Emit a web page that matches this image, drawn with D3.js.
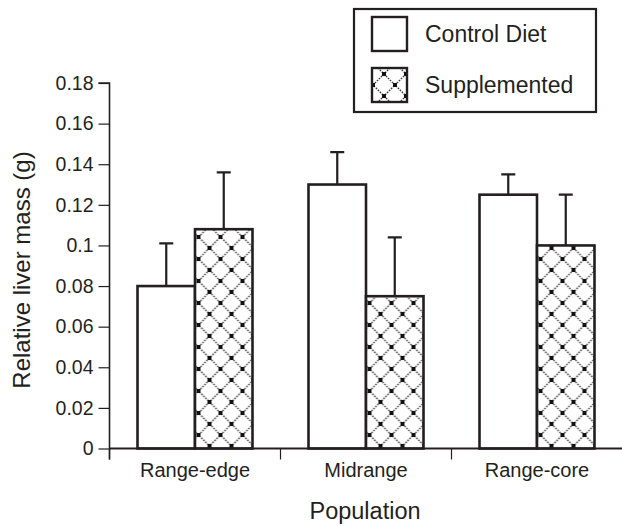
<!DOCTYPE html>
<html>
<head>
<meta charset="utf-8">
<script src="https://cdn.jsdelivr.net/npm/d3@7"></script>
<style>
  body { margin: 0; background: #fff; }
  text { font-family: "Liberation Sans", Arial, sans-serif; fill: #231f20; }
</style>
</head>
<body>
<div id="chart-area"></div>
<script>
// data
const populations = ["Range-edge", "Midrange", "Range-core"];
const diets = ["Control Diet", "Supplemented"];
const controlMass = [0.080, 0.130, 0.125];
const controlErr = [0.021, 0.016, 0.010];
const suppMass = [0.108, 0.075, 0.100];
const suppErr = [0.028, 0.029, 0.025];
const yTicks = [0, 0.02, 0.04, 0.06, 0.08, 0.1, 0.12, 0.14, 0.16, 0.18];

const WIDTH = 622, HEIGHT = 527;
const INK = "#231f20";
const MARGIN = { LEFT: 109.5, RIGHT: 0, TOP: 83, BOTTOM: 78.5 };

const svg = d3.select("#chart-area")
  .append("svg")
    .attr("width", WIDTH)
    .attr("height", HEIGHT);

// lattice fill for the supplemented bars (dotted diagonals, dark knots)
const pat = svg.append("defs").append("pattern")
  .attr("id", "lattice")
  .attr("patternUnits", "userSpaceOnUse")
  .attr("width", 22).attr("height", 22)
  .attr("x", 188).attr("y", 226);
pat.append("rect").attr("width", 22).attr("height", 22).attr("fill", "#fff");
pat.append("path")
  .attr("d", "M0,0 L22,22 M22,0 L0,22")
  .attr("fill", "none").attr("stroke", "#3a3a3a").attr("stroke-width", 1.4)
  .attr("stroke-dasharray", "1.6,1.2");
[[0,0],[22,0],[0,22],[22,22],[11,11]].forEach(([cx, cy]) => {
  pat.append("rect").attr("x", cx - 2).attr("y", cy - 2)
    .attr("width", 4).attr("height", 4).attr("fill", "#111");
});

const rows = populations.map((p, i) => ({
  pop: p,
  vals: [
    { diet: diets[0], v: controlMass[i], e: controlErr[i] },
    { diet: diets[1], v: suppMass[i], e: suppErr[i] }
  ]
}));

const x = d3.scaleBand()
  .domain(populations)
  .range([MARGIN.LEFT, WIDTH - MARGIN.RIGHT + 0.5]);

const x1 = d3.scaleBand()
  .domain(diets)
  .range([28, x.bandwidth() - 28]);

const y = d3.scaleLinear()
  .domain([0, 0.18])
  .range([HEIGHT - MARGIN.BOTTOM, MARGIN.TOP]);

const fillFor = d => d.diet === diets[0] ? "#fff" : "url(#lattice)";

// error bars first so bar outlines sit on top
const groups = svg.selectAll(".pop")
  .data(rows)
  .enter().append("g")
    .attr("class", "pop")
    .attr("transform", d => `translate(${x(d.pop)},0)`);

groups.selectAll(".err")
  .data(d => d.vals)
  .enter().append("path")
    .attr("class", "err")
    .attr("d", d => {
      const cx = x1(d.diet) + x1.bandwidth() / 2;
      return `M${cx},${y(d.v)}V${y(d.v + d.e)}M${cx - 7},${y(d.v + d.e)}H${cx + 7}`;
    })
    .attr("stroke", INK).attr("stroke-width", 2.2).attr("fill", "none");

groups.selectAll("rect")
  .data(d => d.vals)
  .enter().append("rect")
    .attr("x", d => x1(d.diet))
    .attr("y", d => y(d.v))
    .attr("width", x1.bandwidth())
    .attr("height", d => y(0) - y(d.v))
    .attr("fill", fillFor)
    .attr("stroke", INK)
    .attr("stroke-width", 2.6);

// y axis
const yAxis = svg.append("g")
  .attr("transform", `translate(${MARGIN.LEFT},0)`)
  .call(d3.axisLeft(y).tickValues(yTicks).tickSize(11).tickPadding(5)
    .tickFormat(d => String(+d.toFixed(2))));
yAxis.select(".domain").attr("stroke", INK).attr("stroke-width", 1.6)
  .attr("d", `M-11,${y(0.18)}H0V${y(0) + 11}`);
yAxis.selectAll(".tick line").attr("stroke", INK).attr("stroke-width", 1.2);
yAxis.selectAll(".tick text").attr("font-size", 19.5).attr("fill", INK)
  .attr("font-family", "Liberation Sans, Arial, sans-serif");

// x axis: ticks sit at band boundaries
const xAxis = svg.append("g")
  .attr("transform", `translate(0,${y(0)})`);
xAxis.append("line")
  .attr("x1", MARGIN.LEFT).attr("x2", WIDTH)
  .attr("stroke", INK).attr("stroke-width", 2.2);
xAxis.selectAll(".xtick")
  .data(populations)
  .enter().append("line")
    .attr("class", "xtick")
    .attr("x1", d => x(d)).attr("x2", d => x(d))
    .attr("y1", 0).attr("y2", 11)
    .attr("stroke", INK).attr("stroke-width", 1.2);
xAxis.selectAll(".xlab")
  .data(populations)
  .enter().append("text")
    .attr("class", "xlab")
    .attr("x", d => x(d) + x.bandwidth() / 2)
    .attr("y", 28)
    .attr("text-anchor", "middle")
    .attr("font-size", 20)
    .text(d => d);

svg.append("text")
  .attr("x", 365).attr("y", 519)
  .attr("text-anchor", "middle")
  .attr("font-size", 23.5)
  .text("Population");

svg.append("text")
  .attr("transform", "translate(30,270) rotate(-90)")
  .attr("text-anchor", "middle")
  .attr("font-size", 24)
  .text("Relative liver mass (g)");

// legend
const legend = svg.append("g");
legend.append("rect")
  .attr("x", 354).attr("y", 9)
  .attr("width", 242).attr("height", 103)
  .attr("fill", "#fff").attr("stroke", INK).attr("stroke-width", 2.2);
const items = legend.selectAll(".item")
  .data(diets)
  .enter().append("g")
    .attr("class", "item")
    .attr("transform", (d, i) => `translate(372,${17 + i * 51})`);
items.append("rect")
  .attr("width", 35).attr("height", 34)
  .attr("fill", d => fillFor({ diet: d }))
  .attr("stroke", INK).attr("stroke-width", 2.4);
items.append("text")
  .attr("x", 53).attr("y", 25)
  .attr("font-size", 23)
  .text(d => d);
</script>
</body>
</html>
